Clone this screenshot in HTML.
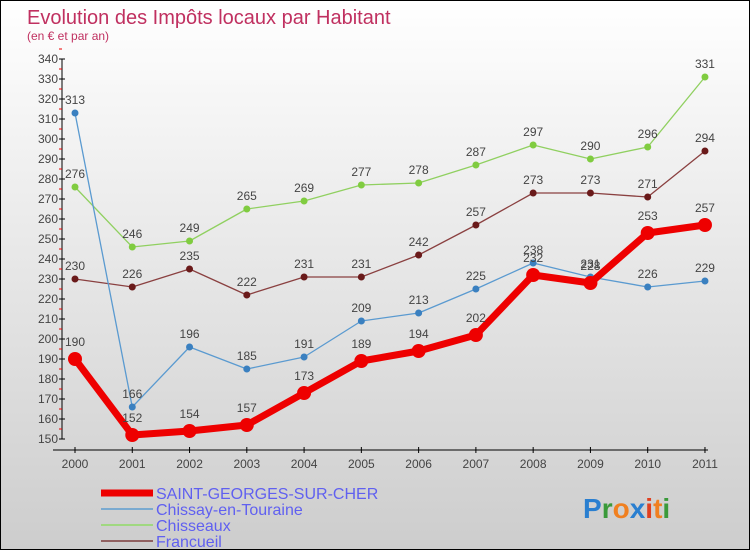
<!DOCTYPE html>
<html><head><meta charset="utf-8"><style>
body{margin:0}
#c{width:750px;height:550px;position:relative;box-sizing:border-box;border:1px solid #000;background:linear-gradient(#ffffff,#cdcdcd);font-family:"Liberation Sans",sans-serif;overflow:hidden}
</style></head><body>
<div id="c">
<svg id="s" width="748" height="548" style="position:absolute;left:0;top:0">
<text x="26" y="23" font-size="20" fill="#c03060">Evolution des Impôts locaux par Habitant</text>
<text x="26" y="39" font-size="12" fill="#c03060">(en € et par an)</text>
<g id="axes"></g><g id="series"></g><g id="legend"></g>
<text x="582" y="517" font-size="28" font-weight="bold"><tspan fill="#2a7fd0">P</tspan><tspan fill="#3a9a3a">r</tspan><tspan fill="#f08020">o</tspan><tspan fill="#2a7fd0">x</tspan><tspan fill="#e04020">i</tspan><tspan fill="#f08020">t</tspan><tspan fill="#3a9a3a">i</tspan></text>
</svg>
</div>
<script>
const years=["2000","2001","2002","2003","2004","2005","2006","2007","2008","2009","2010","2011"];
const yTicks=[150,160,170,180,190,200,210,220,230,240,250,260,270,280,290,300,310,320,330,340];
const stGeorges=[190,152,154,157,173,189,194,202,232,228,253,257];
const chissay=[313,166,196,185,191,209,213,225,238,231,226,229];
const chisseaux=[276,246,249,265,269,277,278,287,297,290,296,331];
const francueil=[230,226,235,222,231,231,242,257,273,273,271,294];
const ns="http://www.w3.org/2000/svg";
function X(i){return 74+i*57.27;}
function Y(v){return 438-(v-150)*2;}
function mk(tag,attrs,parent,name){const e=document.createElementNS(ns,tag);for(const k in attrs)e.setAttribute(k,attrs[k]);


parent.appendChild(e);return e;}
const ax=document.getElementById('axes');
mk('line',{x1:61,y1:Y(340),x2:61,y2:Y(150),stroke:'#000'},ax,'y-axis');
mk('line',{x1:52,y1:449,x2:707,y2:449,stroke:'#000'},ax,'x-axis');
yTicks.forEach(v=>{mk('line',{x1:58,y1:Y(v),x2:64,y2:Y(v),stroke:'#000'},ax,'y-tick');
mk('line',{x1:58,y1:Y(v+5),x2:61,y2:Y(v+5),stroke:'#e00'},ax,'y-minor-tick');
const t=mk('text',{x:57,y:Y(v)+4,'font-size':12,fill:'#444','text-anchor':'end'},ax,'y-tick-label');t.textContent=v;});
years.forEach((y,i)=>{mk('line',{x1:X(i),y1:446,x2:X(i),y2:452,stroke:'#000'},ax,'x-tick');
const t=mk('text',{x:X(i),y:467,'font-size':12,fill:'#444','text-anchor':'middle'},ax,'x-tick-label');t.textContent=y;});
const sg=document.getElementById('series');
function draw(data,color,w,r,name,dot){
mk('polyline',{points:data.map((v,i)=>X(i)+','+Y(v)).join(' '),fill:'none',stroke:color,'stroke-width':w,'stroke-linejoin':'round'},sg,name+'-line');
data.forEach((v,i)=>{mk('circle',{cx:X(i),cy:Y(v),r:r,fill:dot},sg,name+'-point');
const t=mk('text',{x:X(i),y:Y(v)-9-(r>4?4:0),'font-size':12,fill:'#444','text-anchor':'middle'},sg,name+'-value');t.textContent=v;});}
draw(chisseaux,'#90d060',1.3,3.5,'chisseaux','#80cc40');
draw(francueil,'#8a4040',1.3,3.5,'francueil','#6a1a1a');
draw(chissay,'#5a9ad0',1.3,3.5,'chissay','#3a80c0');
draw(stGeorges,'#ee0000',7,7,'saint-georges','#ee0000');
const lg=document.getElementById('legend');
const leg=[["SAINT-GEORGES-SUR-CHER",'#ee0000',7],["Chissay-en-Touraine",'#7aaad0',2],["Chisseaux",'#a0d880',2],["Francueil",'#906060',2]];
leg.forEach((l,i)=>{const y=492+i*16;
mk('line',{x1:100,y1:y,x2:152,y2:y,stroke:l[1],'stroke-width':l[2]},lg,'legend-swatch');
const t=mk('text',{x:155,y:y+6,'font-size':16,fill:'#6060f0'},lg,'legend-entry');t.textContent=l[0];});
</script>
</body></html>
